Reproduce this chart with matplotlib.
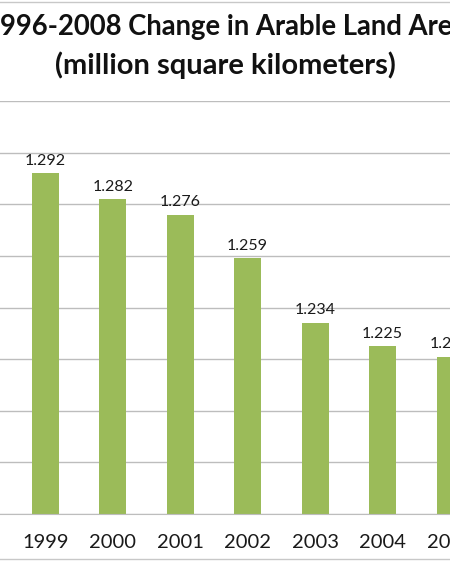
#!/usr/bin/env python
import matplotlib as mpl; mpl.use("Agg")
import matplotlib.pyplot as plt
from matplotlib.lines import Line2D

# Data (visible part of the chart)
# ------------------------------------------------------------------------------
years = ["1999", "2000", "2001", "2002", "2003", "2004", "2005"]
area = [1.292, 1.282, 1.276, 1.259, 1.234, 1.225, 1.221]
labels = ["1.292", "1.282", "1.276", "1.259", "1.234", "1.225", "1.221"]

title1 = "1996-2008 Change in Arable Land Area"
title2 = "(million square kilometers)"

plt.rcParams["font.family"] = ["Lato", "DejaVu Sans"]

fig = plt.figure(figsize=(4.5, 5.63), dpi=100)
fig.patch.set_facecolor("white")

# plot area matches the crop of the original Excel chart
ax = fig.add_axes([0.0, 0.0870, 1.0, 0.7336])
x = list(range(len(years)))
bars = ax.bar(x, area, width=0.40, color="#9BBB59", zorder=3)
ax.bar_label(bars, labels=labels, padding=4, fontsize=11.5, color="#1a1a1a")

ax.set_ylim(1.16, 1.32)
ax.set_yticks([1.16 + 0.02 * i for i in range(9)])
ax.set_xlim(-0.6715, -0.6715 + 450 / 68.5)
ax.set_xticks(x)
ax.set_xticklabels(years, fontsize=14.5, color="#1a1a1a")
ax.tick_params(axis="x", length=0, pad=14.5)
ax.tick_params(axis="y", length=0, labelleft=False)
ax.grid(axis="y", color="#bdbdbd", linewidth=1.0, zorder=0)
for s in ["top", "left", "right"]:
    ax.spines[s].set_visible(False)
ax.spines["bottom"].set_color("#bdbdbd")
ax.spines["bottom"].set_zorder(4)

fig.text(0.5, 1 - 27 / 563, title1, ha="center", va="center", fontsize=19.8,
         fontweight="bold", color="#111111")
fig.text(0.5, 1 - 65 / 563, title2, ha="center", va="center", fontsize=21,
         fontweight="bold", color="#111111")

# chart frame edges
for yf in [1 - 1.5 / 563, 1 - 559 / 563]:
    fig.add_artist(Line2D([0, 1], [yf, yf], color="#c8c8c8", linewidth=1.0))

fig.savefig("out.png", dpi=100)
